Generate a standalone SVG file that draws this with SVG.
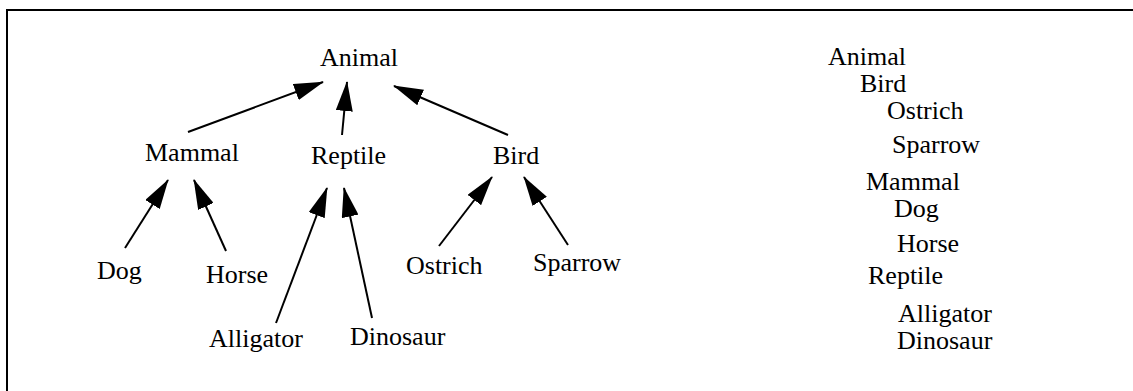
<svg xmlns="http://www.w3.org/2000/svg" width="1133" height="391" viewBox="0 0 1133 391">
<style>
text{font-family:"Liberation Serif","Times New Roman",serif;font-size:26px;fill:#000}
.e{stroke:#000;stroke-width:2;fill:none;marker-end:url(#ah)}
.frame{stroke:#000;stroke-width:2;fill:none}
</style>
<defs>
<marker id="ah" markerUnits="userSpaceOnUse" markerWidth="30" markerHeight="17" viewBox="0 0 30 17" refX="29" refY="8.5" orient="auto">
<path d="M0,0 L30,8.5 L0,17 Z" fill="#000"/>
</marker>
</defs>
<rect width="1133" height="391" fill="#fff"/>
<path class="frame" d="M7,391 L7,10 L1133,10"/>
<g id="connectors">
<line class="e" x1="188" y1="132" x2="323" y2="82"/>
<line class="e" x1="342" y1="135" x2="347" y2="82"/>
<line class="e" x1="508" y1="135" x2="394" y2="86"/>
<line class="e" x1="125" y1="248" x2="168" y2="180"/>
<line class="e" x1="226" y1="251" x2="194" y2="180"/>
<line class="e" x1="276" y1="323" x2="327" y2="188"/>
<line class="e" x1="372" y1="318" x2="344" y2="188"/>
<line class="e" x1="439" y1="246" x2="492" y2="177"/>
<line class="e" x1="568" y1="245" x2="524" y2="177"/>
</g>
<g id="n-animal"><text x="320" y="66">Animal</text></g>
<g id="n-mammal"><text x="145" y="161">Mammal</text></g>
<g id="n-reptile"><text x="311" y="164">Reptile</text></g>
<g id="n-bird"><text x="493" y="164">Bird</text></g>
<g id="n-dog"><text x="97" y="279">Dog</text></g>
<g id="n-horse"><text x="206" y="283">Horse</text></g>
<g id="n-alligator"><text x="209" y="347">Alligator</text></g>
<g id="n-dinosaur"><text x="350" y="345">Dinosaur</text></g>
<g id="n-ostrich"><text x="406" y="274">Ostrich</text></g>
<g id="n-sparrow"><text x="533" y="271">Sparrow</text></g>
<g id="outline">
<text x="828" y="65">Animal</text>
<text x="860" y="92">Bird</text>
<text x="887" y="119">Ostrich</text>
<text x="892" y="153">Sparrow</text>
<text x="866" y="190">Mammal</text>
<text x="894" y="217">Dog</text>
<text x="897" y="252">Horse</text>
<text x="868" y="284">Reptile</text>
<text x="898" y="322">Alligator</text>
<text x="897" y="349">Dinosaur</text>
</g>
</svg>
